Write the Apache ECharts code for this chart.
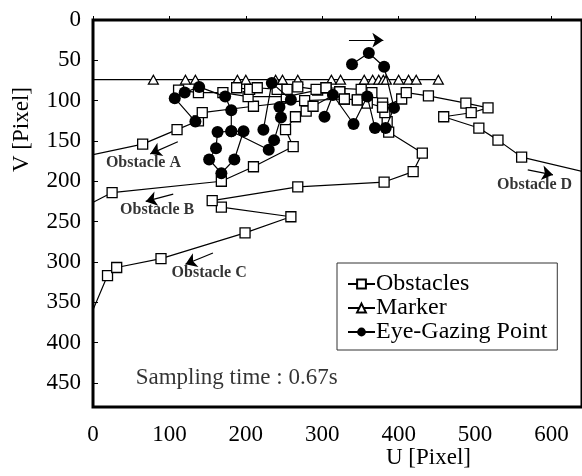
<!DOCTYPE html>
<html>
<head>
<meta charset="utf-8">
<script src="https://cdn.jsdelivr.net/npm/echarts@6/dist/echarts.min.js"></script>
<style>
  html, body { margin: 0; padding: 0; background: #fff; }
  #chart { width: 582px; height: 476px; }
</style>
</head>
<body>
<div id="chart"></div>
<script>
// 刻度
const uTicks = [0, 100, 200, 300, 400, 500, 600]
const vTicks = [0, 50, 100, 150, 200, 250, 300, 350, 400, 450]

// 障碍物轨迹 [U, V]
const obstacleA = [[-10, 169], [65, 154], [110, 136], [138, 125], [143, 115], [210, 107], [277, 100], [329, 98], [346, 99]]
const obstacleB = [[-10, 231], [25, 214], [168, 200], [210, 182], [262, 157], [252, 136], [265, 120], [279, 113], [288, 107], [323, 89]]
const obstacleC = [[-10, 382], [19, 317], [31, 307], [89, 296], [199, 264], [259, 244], [168, 232], [156, 224],
  [268, 207], [381, 201], [419, 188], [431, 165], [387, 139], [385, 126], [382, 115], [379, 108], [404, 98]]
const obstacleD = [[410, 90], [439, 94], [488, 103], [517, 109], [495, 115], [459, 120], [505, 134], [530, 149], [561, 170], [655, 191]]
const obstacleE = [[112, 87], [138, 90], [170, 90], [203, 95], [253, 95], [294, 87], [305, 84], [323, 89]]
const obstacleF = [[188, 84], [205, 86], [215, 84], [241, 86], [254, 86], [268, 83], [292, 86], [305, 84], [351, 86], [365, 90], [379, 103]]
const obstacleG = [[329, 98], [346, 99], [359, 103], [379, 108]]

// 标记点
const markerPts = [[-10, 74], [79, 74], [121, 74], [134, 74], [189, 74], [200, 74], [239, 74], [248, 74], [268, 74],
  [312, 74], [324, 74], [355, 74], [366, 74], [374, 74], [380, 74], [384, 74], [400, 74], [413, 74], [423, 74], [452, 74]]

// 注视点
const gaze1 = [[134, 126], [107, 97], [120, 90], [139, 83], [173, 95], [181, 112], [181, 138], [163, 139], [161, 159],
  [152, 173], [168, 190], [185, 173], [197, 138], [181, 138], [230, 161], [237, 149], [246, 121], [244, 108],
  [259, 99], [234, 78], [223, 136]]
const gaze2 = [[303, 120], [314, 93], [341, 129], [359, 95], [369, 134], [383, 134], [394, 109], [381, 58], [361, 41], [339, 55]]

// 注释
const noteTexts = [
  { name: 'Obstacle A', value: [66, 177] },
  { name: 'Obstacle B', value: [84, 235] },
  { name: 'Obstacle C', value: [152, 314] },
  { name: 'Obstacle D', value: [578, 204] }
]
const samplingText = { name: 'Sampling time : 0.67s', value: [188, 444] }
const arrows = [
  [[111, 151], [75, 166]],
  [[105, 216], [69, 225]],
  [[157, 289], [121, 303]],
  [[569, 186], [602, 192]],
  [[335, 25], [380, 25]]
]

const serif = 'Liberation Serif, Times New Roman, serif'

const obstacleSeries = (data) => ({
  name: 'Obstacles',
  type: 'line',
  data,
  symbol: 'rect',
  symbolSize: 10,
  itemStyle: { color: '#fff', borderColor: '#000', borderWidth: 1.3 },
  lineStyle: { color: '#000', width: 1.2 },
  z: 3
})

const gazeSeries = (data) => ({
  name: 'Eye-Gazing Point',
  type: 'line',
  data,
  symbol: 'circle',
  symbolSize: 12,
  itemStyle: { color: '#000', borderColor: '#000', borderWidth: 0 },
  lineStyle: { color: '#000', width: 1.2 },
  z: 4
})

const chart = echarts.init(document.getElementById('chart'))

chart.setOption({
  animation: false,
  backgroundColor: '#fff',
  textStyle: { fontFamily: serif },
  grid: {
    left: 93,
    right: -6,
    top: 20,
    bottom: 69,
    show: true,
    borderColor: '#000',
    borderWidth: 3,
    backgroundColor: 'transparent'
  },
  legend: {
    data: ['Obstacles', 'Marker', 'Eye-Gazing Point'],
    orient: 'vertical',
    left: 337,
    top: 263,
    itemWidth: 27,
    itemHeight: 11,
    itemGap: 0,
    padding: [9, 10, 6, 10],
    borderColor: '#333',
    borderWidth: 1,
    backgroundColor: '#fff',
    textStyle: { fontFamily: serif, fontSize: 24, color: '#000', padding: [0, 0, 0, -4] }
  },
  xAxis: {
    type: 'value',
    min: 0,
    max: 640,
    interval: 100,
    axisLine: { show: false },
    axisTick: { show: true, inside: true, length: 4, lineStyle: { color: '#000' } },
    splitLine: { show: false },
    axisLabel: {
      margin: 16,
      color: '#000',
      fontSize: 23,
      fontFamily: serif,
      showMaxLabel: false,
      formatter: (v) => (uTicks.includes(v) ? String(v) : '')
    }
  },
  yAxis: {
    type: 'value',
    inverse: true,
    min: 0,
    max: 480,
    interval: 50,
    axisLine: { show: false },
    axisTick: { show: true, inside: true, length: 5, lineStyle: { color: '#000' } },
    splitLine: { show: false },
    axisLabel: {
      margin: 12,
      color: '#000',
      fontSize: 23,
      fontFamily: serif,
      showMaxLabel: false,
      formatter: (v) => (vTicks.includes(v) ? String(v) : '')
    }
  },
  series: [
    obstacleSeries(obstacleA),
    obstacleSeries(obstacleB),
    obstacleSeries(obstacleC),
    obstacleSeries(obstacleD),
    obstacleSeries(obstacleE),
    obstacleSeries(obstacleF),
    obstacleSeries(obstacleG),
    {
      name: 'Marker',
      type: 'line',
      data: markerPts,
      symbol: 'triangle',
      symbolSize: [10, 9],
      itemStyle: { color: '#fff', borderColor: '#000', borderWidth: 1.2 },
      lineStyle: { color: '#000', width: 1.2 },
      z: 2
    },
    gazeSeries(gaze1),
    gazeSeries(gaze2),
    {
      name: 'notes',
      type: 'scatter',
      symbolSize: 0,
      silent: true,
      z: 6,
      data: [
        ...noteTexts,
        { ...samplingText, label: { fontSize: 23, fontWeight: 'normal' } }
      ],
      label: {
        show: true,
        position: 'inside',
        formatter: (p) => p.name,
        color: '#000',
        fontFamily: serif,
        fontSize: 16,
        fontWeight: 'bold'
      },
      markLine: {
        silent: true,
        symbol: ['none', 'arrow'],
        symbolSize: 11,
        label: { show: false },
        lineStyle: { color: '#000', width: 1.2, type: 'solid' },
        data: arrows.map(([a, b]) => [{ coord: a }, { coord: b }])
      }
    }
  ],
  graphic: [
    {
      type: 'text',
      left: 386,
      top: 446,
      style: { text: 'U [Pixel]', font: '23px ' + serif, fill: '#000' }
    },
    {
      type: 'text',
      x: 10,
      y: 172,
      rotation: Math.PI / 2,
      style: { text: 'V [Pixel]', font: '23px ' + serif, fill: '#000' }
    }
  ]
})
</script>
</body>
</html>
